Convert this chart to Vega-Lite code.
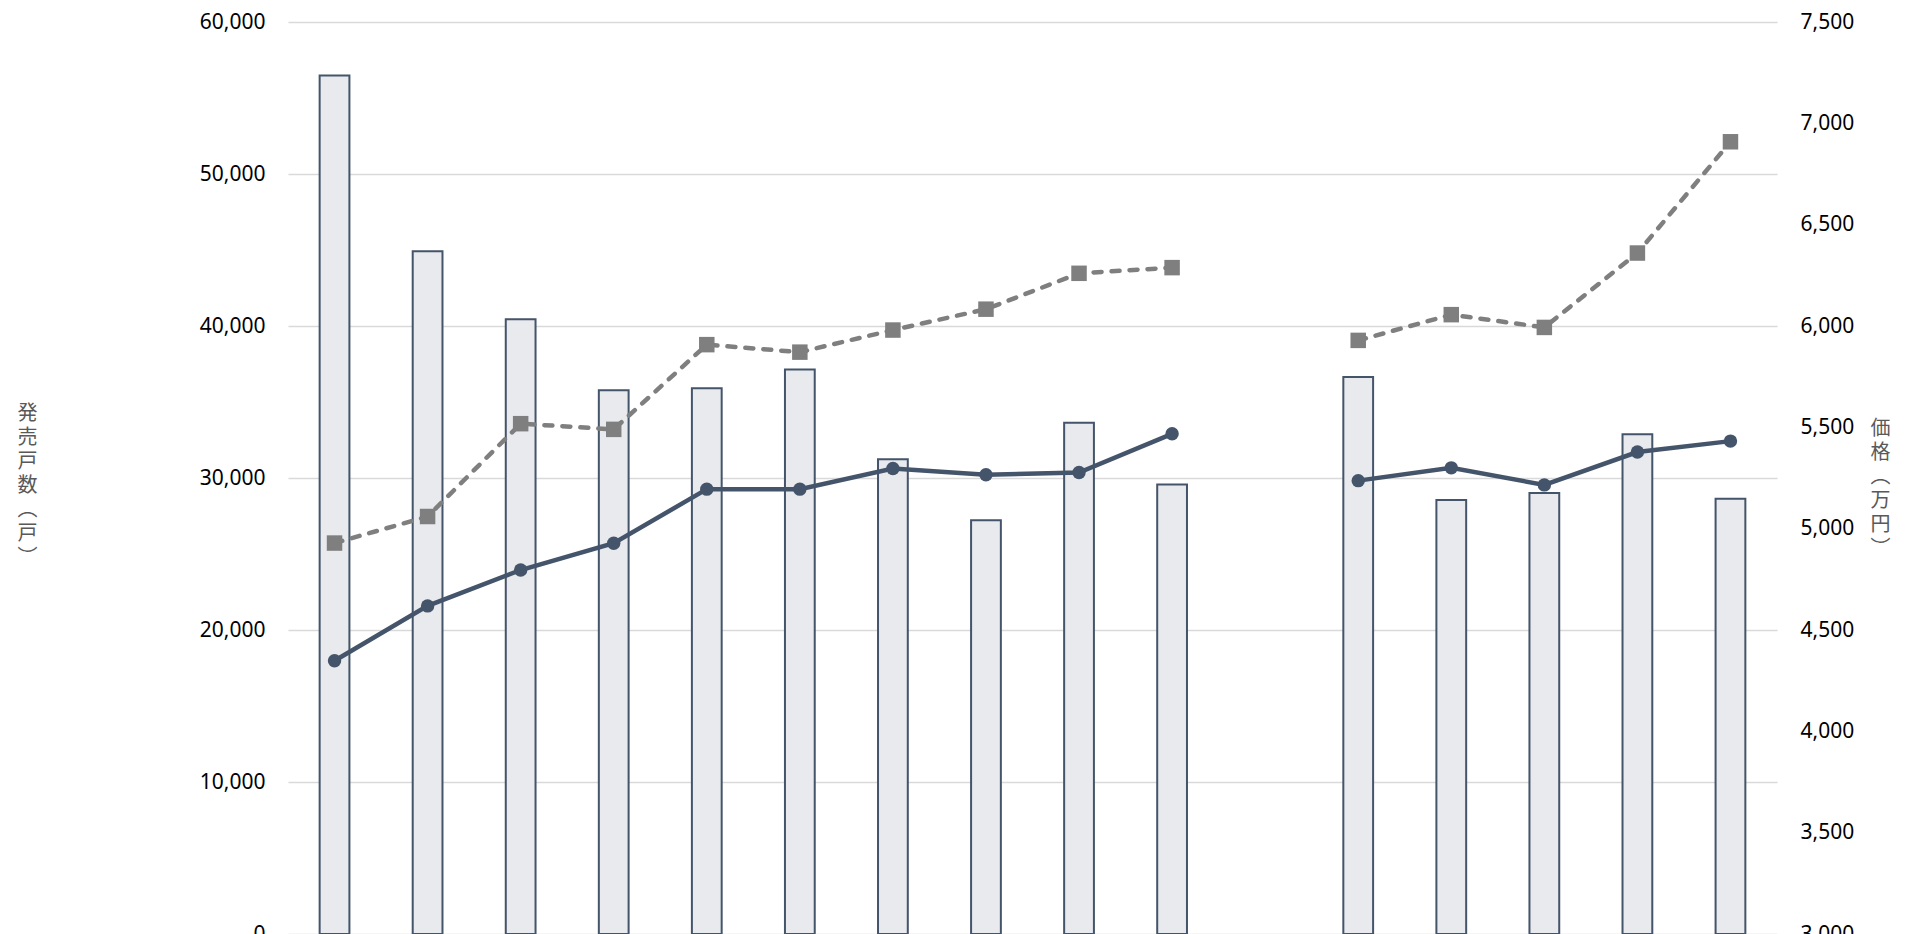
{
  "$schema": "https://vega.github.io/schema/vega-lite/v6.json",
  "width": 1489,
  "height": 912,
  "autosize": {"type": "none"},
  "padding": {"left": 288, "top": 22, "right": 133, "bottom": 0},
  "background": "white",
  "config": {"view": {"stroke": null}, "font": "Noto Sans"},
  "data": {
    "values": [
      {"period": "2013年", "grp": "A", "units": 56478, "price_avg": 4929, "price_b": 4348},
      {"period": "2014年", "grp": "A", "units": 44913, "price_avg": 5060, "price_b": 4619},
      {"period": "2015年", "grp": "A", "units": 40449, "price_avg": 5518, "price_b": 4796},
      {"period": "2016年", "grp": "A", "units": 35772, "price_avg": 5490, "price_b": 4928},
      {"period": "2017年", "grp": "A", "units": 35898, "price_avg": 5908, "price_b": 5195},
      {"period": "2018年", "grp": "A", "units": 37132, "price_avg": 5871, "price_b": 5195},
      {"period": "2019年", "grp": "A", "units": 31238, "price_avg": 5980, "price_b": 5297},
      {"period": "2020年", "grp": "A", "units": 27228, "price_avg": 6083, "price_b": 5266},
      {"period": "2021年", "grp": "A", "units": 33636, "price_avg": 6260, "price_b": 5277},
      {"period": "2022年", "grp": "A", "units": 29569, "price_avg": 6288, "price_b": 5468},
      {"period": "2019年度", "grp": "B", "units": 36650, "price_avg": 5929, "price_b": 5237},
      {"period": "2020年度", "grp": "B", "units": 28550, "price_avg": 6056, "price_b": 5300},
      {"period": "2021年度", "grp": "B", "units": 29010, "price_avg": 5993, "price_b": 5216},
      {"period": "2022年度", "grp": "B", "units": 32880, "price_avg": 6360, "price_b": 5378},
      {"period": "2023年度", "grp": "B", "units": 28640, "price_avg": 6909, "price_b": 5432}
    ]
  },
  "encoding": {
    "x": {
      "field": "period",
      "type": "nominal",
      "sort": null,
      "scale": {
        "domain": ["2013年", "2014年", "2015年", "2016年", "2017年", "2018年", "2019年", "2020年", "2021年", "2022年", " ", "2019年度", "2020年度", "2021年度", "2022年度", "2023年度"],
        "paddingInner": 0.68,
        "paddingOuter": 0.34
      },
      "axis": null
    }
  },
  "layer": [
    {
      "mark": {"type": "bar", "fill": "#e8eaee", "stroke": "#44546a", "strokeWidth": 2},
      "encoding": {
        "y": {
          "field": "units",
          "type": "quantitative",
          "scale": {"domain": [0, 60000], "nice": false},
          "axis": {
            "orient": "left",
            "values": [0, 10000, 20000, 30000, 40000, 50000, 60000],
            "format": ",.0f",
            "grid": true,
            "gridColor": "#d9d9d9",
            "gridWidth": 1.5,
            "domain": false,
            "ticks": false,
            "labelFontSize": 21,
            "labelFont": "Noto Sans",
            "labelColor": "#000000",
            "labelPadding": 23,
            "labelOverlap": false,
            "title": ["発", "売", "戸", "数", "︵", "戸", "︶"],
            "titleAngle": 0,
            "titleX": -261,
            "titleY": 391,
            "titleAlign": "center",
            "titleBaseline": "middle",
            "titleFont": "Noto Sans CJK JP",
            "titleFontSize": 20,
            "titleFontWeight": "normal",
            "titleColor": "#595959",
            "titleLineHeight": 24
          }
        }
      }
    },
    {
      "layer": [
        {
          "mark": {
            "type": "line",
            "color": "#7f7f7f",
            "strokeWidth": 4.5,
            "strokeDash": [8, 10],
            "strokeCap": "round",
            "point": {"shape": "square", "size": 240, "filled": true, "color": "#7f7f7f", "opacity": 1}
          },
          "encoding": {
            "y": {
              "field": "price_avg",
              "type": "quantitative",
              "scale": {"domain": [3000, 7500], "nice": false},
              "axis": {
                "orient": "right",
                "values": [3000, 3500, 4000, 4500, 5000, 5500, 6000, 6500, 7000, 7500],
                "format": ",.0f",
                "grid": false,
                "domain": false,
                "ticks": false,
                "labelFontSize": 21,
                "labelFont": "Noto Sans",
                "labelColor": "#000000",
                "labelPadding": 23,
                "labelOverlap": false,
                "title": ["価", "格", "︵", "万", "円", "︶"],
                "titleAngle": 0,
                "titleX": 103,
                "titleY": 406,
                "titleAlign": "center",
                "titleBaseline": "middle",
                "titleFont": "Noto Sans CJK JP",
                "titleFontSize": 20,
                "titleFontWeight": "normal",
                "titleColor": "#595959",
                "titleLineHeight": 24
              }
            },
            "detail": {"field": "grp", "type": "nominal"}
          }
        },
        {
          "mark": {
            "type": "line",
            "color": "#44546a",
            "strokeWidth": 4.5,
            "point": {"shape": "circle", "size": 180, "filled": true, "color": "#44546a", "opacity": 1}
          },
          "encoding": {
            "y": {
              "field": "price_b",
              "type": "quantitative",
              "scale": {"domain": [3000, 7500], "nice": false},
              "axis": {
                "orient": "right",
                "values": [3000, 3500, 4000, 4500, 5000, 5500, 6000, 6500, 7000, 7500],
                "format": ",.0f",
                "grid": false,
                "domain": false,
                "ticks": false,
                "labelFontSize": 21,
                "labelFont": "Noto Sans",
                "labelColor": "#000000",
                "labelPadding": 23,
                "labelOverlap": false,
                "title": ["価", "格", "︵", "万", "円", "︶"],
                "titleAngle": 0,
                "titleX": 103,
                "titleY": 406,
                "titleAlign": "center",
                "titleBaseline": "middle",
                "titleFont": "Noto Sans CJK JP",
                "titleFontSize": 20,
                "titleFontWeight": "normal",
                "titleColor": "#595959",
                "titleLineHeight": 24
              }
            },
            "detail": {"field": "grp", "type": "nominal"}
          }
        }
      ]
    }
  ],
  "resolve": {"scale": {"y": "independent"}}
}
